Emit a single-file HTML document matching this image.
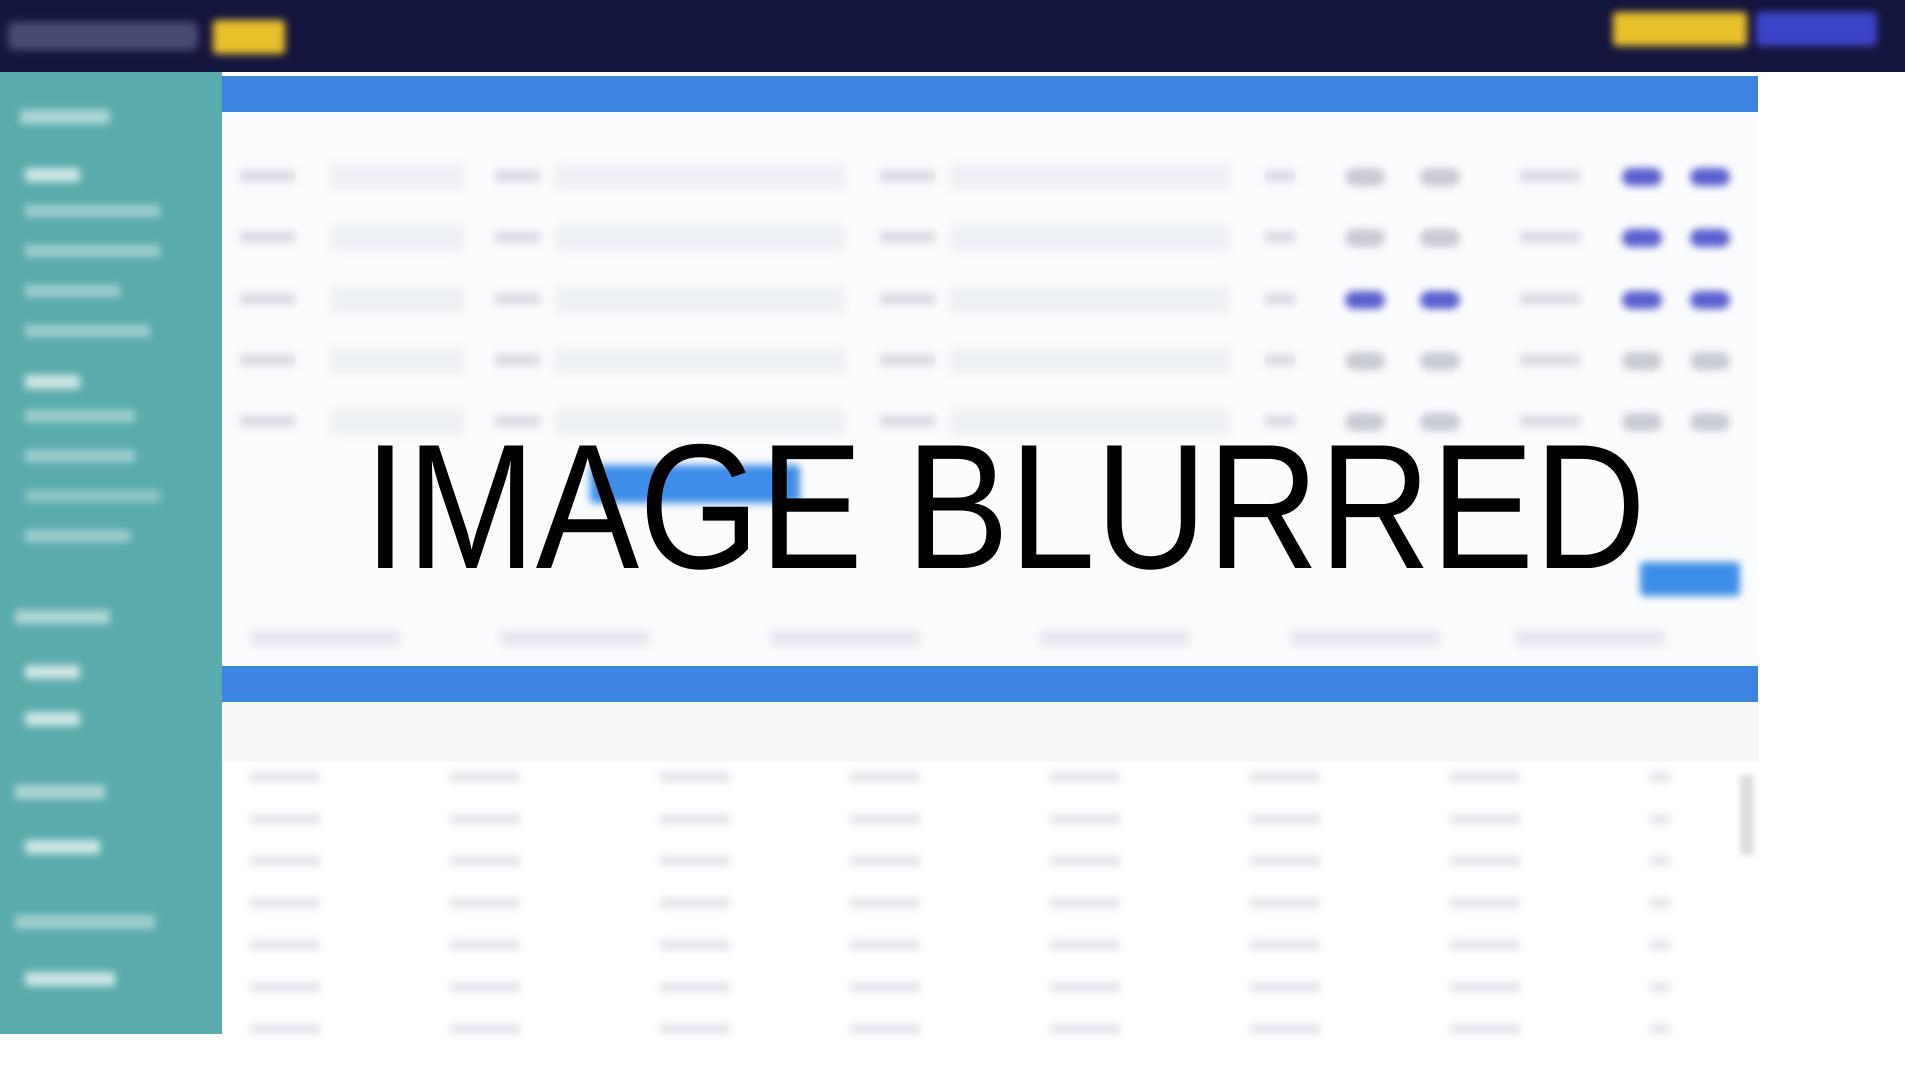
<!DOCTYPE html>
<html><head><meta charset="utf-8"><style>
body{margin:0;width:1905px;height:1066px;overflow:hidden;background:#fff;position:relative;font-family:"Liberation Sans",sans-serif}
.a{position:absolute}
.bl{filter:blur(4px)}
</style></head><body>
<div class="a" style="left:0;top:0;width:1905px;height:72px;background:#15163d"></div>
<div class="a bl" style="left:8px;top:22px;width:190px;height:28px;background:#6a6f95;border-radius:6px;opacity:.6"></div>
<div class="a bl" style="left:213px;top:20px;width:72px;height:34px;background:#e8c02c;border-radius:4px"></div>
<div class="a bl" style="left:1613px;top:12px;width:134px;height:34px;background:#e8c02c;border-radius:4px"></div>
<div class="a bl" style="left:1756px;top:12px;width:121px;height:34px;background:#3c44c8;border-radius:4px"></div>
<div class="a" style="left:0;top:72px;width:222px;height:962px;background:#5aabab"></div>
<div class="a bl" style="left:20px;top:110px;width:90px;height:14px;background:#e6f4f4;opacity:.6"></div>
<div class="a bl" style="left:25px;top:168px;width:55px;height:14px;background:#fff;opacity:.7"></div>
<div class="a bl" style="left:25px;top:205px;width:135px;height:12px;background:#e6f4f4;opacity:.5"></div>
<div class="a bl" style="left:25px;top:245px;width:135px;height:12px;background:#e6f4f4;opacity:.5"></div>
<div class="a bl" style="left:25px;top:285px;width:95px;height:12px;background:#e6f4f4;opacity:.5"></div>
<div class="a bl" style="left:25px;top:325px;width:125px;height:12px;background:#e6f4f4;opacity:.5"></div>
<div class="a bl" style="left:25px;top:375px;width:55px;height:14px;background:#fff;opacity:.7"></div>
<div class="a bl" style="left:25px;top:410px;width:110px;height:12px;background:#e6f4f4;opacity:.5"></div>
<div class="a bl" style="left:25px;top:450px;width:110px;height:12px;background:#e6f4f4;opacity:.5"></div>
<div class="a bl" style="left:25px;top:490px;width:135px;height:12px;background:#e6f4f4;opacity:.4"></div>
<div class="a bl" style="left:25px;top:530px;width:105px;height:12px;background:#e6f4f4;opacity:.5"></div>
<div class="a bl" style="left:15px;top:610px;width:95px;height:14px;background:#e6f4f4;opacity:.6"></div>
<div class="a bl" style="left:25px;top:665px;width:55px;height:14px;background:#fff;opacity:.7"></div>
<div class="a bl" style="left:25px;top:712px;width:55px;height:14px;background:#fff;opacity:.7"></div>
<div class="a bl" style="left:15px;top:785px;width:90px;height:14px;background:#e6f4f4;opacity:.6"></div>
<div class="a bl" style="left:25px;top:840px;width:75px;height:14px;background:#fff;opacity:.7"></div>
<div class="a bl" style="left:15px;top:915px;width:140px;height:14px;background:#e6f4f4;opacity:.5"></div>
<div class="a bl" style="left:25px;top:972px;width:90px;height:14px;background:#fff;opacity:.7"></div>
<div class="a" style="left:222px;top:76px;width:1536px;height:36px;background:#3d85e0"></div>
<div class="a" style="left:222px;top:666px;width:1536px;height:36px;background:#3d85e0"></div>
<div class="a" style="left:222px;top:112px;width:1536px;height:554px;background:#fbfcfd"></div>
<div id="rows"></div>
<div class="a bl" style="left:1640px;top:562px;width:100px;height:34px;background:#3d8ee8;border-radius:4px"></div>
<div class="a bl" style="left:590px;top:465px;width:210px;height:38px;background:#3d8ee8;border-radius:4px"></div>
<div class="a" style="left:222px;top:702px;width:1536px;height:60px;background:#f6f7f9"></div>
<div class="a" style="left:1740px;top:775px;width:14px;height:80px;background:#ddd;filter:blur(3px)"></div>
<div class="a" style="left:0;top:0;width:1905px;height:1066px;display:flex;align-items:center;justify-content:center">
<div style="font-size:178px;color:#000;transform:translate(52px,-26px) scaleX(0.87);line-height:1">IMAGE BLURRED</div></div>
<script>
var r=document.getElementById('rows'),h='';
[176,237,299,360,421].forEach(function(y){
[[240,55],[495,45],[880,55],[1265,30],[1520,60]].forEach(function(b){h+='<div class="a bl" style="left:'+b[0]+'px;top:'+(y-6)+'px;width:'+b[1]+'px;height:12px;background:#d8dbe2"></div>';});
[[330,135],[555,290],[950,280]].forEach(function(b){h+='<div class="a bl" style="left:'+b[0]+'px;top:'+(y-12)+'px;width:'+b[1]+'px;height:26px;background:#edf0f4;border-radius:3px"></div>';});
[1345,1420,1622,1690].forEach(function(x){h+='<div class="a bl" style="left:'+x+'px;top:'+(y-8)+'px;width:40px;height:18px;background:'+(y<250&&x>1600||y==299?'#5a5fcf':'#c8cad4')+';border-radius:9px"></div>';});
});
[250,500,770,1040,1290,1515].forEach(function(x){h+='<div class="a bl" style="left:'+x+'px;top:630px;width:150px;height:16px;background:#e6e8ee"></div>';});
for(var i=0;i<8;i++){var y=736+i*42;[250,450,660,850,1050,1250,1450,1650].forEach(function(x,j){h+='<div class="a bl" style="left:'+x+'px;top:'+(y-6)+'px;width:'+(j==7?20:70)+'px;height:10px;background:#e2e4ea"></div>';});}
r.innerHTML=h;
</script>
</body></html>
